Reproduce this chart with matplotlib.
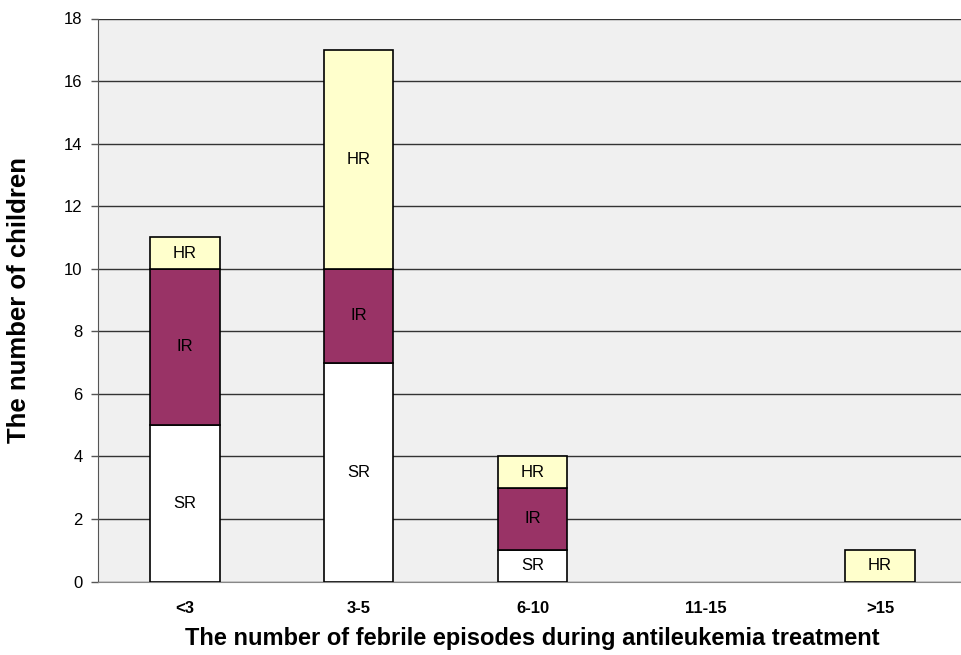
import numpy as np
import matplotlib.pyplot as plt

plt.rcParams['font.family'] = ['Liberation Sans', 'DejaVu Sans']

categories = ['<3', '3-5', '6-10', '11-15', '>15']
sr = [5, 7, 1, 0, 0]
ir = [5, 3, 2, 0, 0]
hr = [1, 7, 1, 0, 1]

colors = {'SR': '#ffffff', 'IR': '#993366', 'HR': '#ffffcc'}

fig = plt.figure(figsize=(9.62, 6.55), dpi=100)
ax = fig.add_axes([98 / 962, 1 - 581.5 / 655, 869 / 962, 563 / 655])
ax.set_facecolor('#f0f0f0')

x = np.arange(len(categories))
bottom = np.zeros(len(categories))
for name, vals in [('SR', sr), ('IR', ir), ('HR', hr)]:
    vals = np.array(vals, dtype=float)
    keep = vals > 0
    ax.bar(x[keep], vals[keep], width=0.4, bottom=bottom[keep], color=colors[name],
           edgecolor='black', linewidth=1.2, zorder=3)
    for xi, b, v in zip(x, bottom, vals):
        if v > 0:
            ax.text(xi, b + v / 2, name, ha='center', va='center',
                    fontsize=12, zorder=4)
    bottom += vals

ax.set_xlim(-0.5, 4.5)
ax.set_ylim(0, 18)
ax.set_yticks(range(0, 19, 2))
ax.yaxis.grid(True, color='#333333', linewidth=1.0, zorder=0)
ax.set_axisbelow(True)

ax.set_xticks(x)
ax.set_xticklabels(categories, fontweight='bold', fontsize=12)
ax.tick_params(axis='x', length=0, pad=14)
ax.tick_params(axis='y', labelsize=12, length=5, width=1, color='#555555', pad=6)

for s in ['top', 'right']:
    ax.spines[s].set_visible(False)
ax.spines['left'].set_color('#555555')
ax.spines['bottom'].set_color('#888888')

ax.set_xlabel('The number of febrile episodes during antileukemia treatment',
              fontsize=17, fontweight='bold', labelpad=8)
ax.set_ylabel('The number of children', fontsize=18.5, fontweight='bold', labelpad=24)

fig.savefig('out.png', dpi=100)
